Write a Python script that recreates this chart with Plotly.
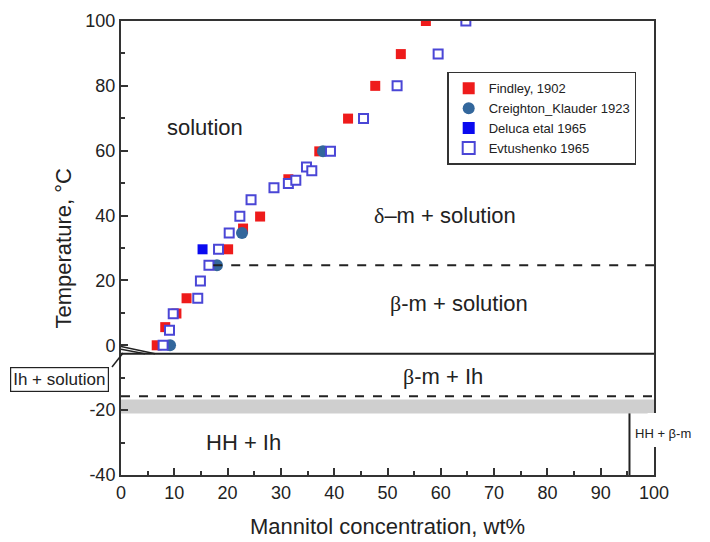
import plotly.graph_objects as go

# ---------------- data ----------------
findley_x = [6.7, 8.3, 10.4, 12.3, 17.6, 20.1, 22.9, 26.1, 31.4, 37.2, 42.6, 47.7, 52.5, 57.2]
findley_t = [0, 5.6, 9.8, 14.5, 24.7, 29.6, 36.0, 39.7, 51.2, 59.8, 69.9, 80, 89.8, 100]

creighton_x = [9.2, 18.0, 22.7, 37.9]
creighton_t = [0, 24.7, 34.6, 59.8]

deluca_x = [15.3]
deluca_t = [29.6]

evt_x = [7.9, 9.1, 9.8, 14.4, 14.9, 16.5, 18.3, 20.3, 22.3, 24.4, 28.7, 31.4, 32.8,
         34.8, 35.8, 39.3, 45.5, 51.8, 59.5, 64.7]
evt_t = [0, 4.6, 9.7, 14.5, 19.8, 24.7, 29.6, 34.6, 39.8, 44.9, 48.6, 49.9, 50.9,
         55.0, 53.8, 59.8, 69.9, 80, 89.8, 100]

x_ticks = list(range(0, 101, 10))
y_ticks = list(range(-40, 101, 20))
y_tick_text = [str(v) for v in y_ticks]  # plain hyphen minus like the original

# phase-boundary levels
eutectic_t = -2.6
transition_t = 24.7
lower_dash_t = -15.7
band_top, band_bot = -16.7, -21.0
hh_beta_x = 95.4

FONT = "Liberation Sans, Arial, sans-serif"
SERIF = "Liberation Serif"
INK = "#222222"

fig = go.Figure()

fig.add_trace(go.Scatter(
    x=findley_x, y=findley_t, mode="markers", name="Findley, 1902",
    marker=dict(symbol="square", size=10, color="#ee1b1b", line=dict(width=0))))
fig.add_trace(go.Scatter(
    x=creighton_x, y=creighton_t, mode="markers", name="Creighton_Klauder 1923",
    marker=dict(symbol="circle", size=12, color="#33679c", line=dict(width=0))))
fig.add_trace(go.Scatter(
    x=deluca_x, y=deluca_t, mode="markers", name="Deluca etal 1965",
    marker=dict(symbol="square", size=10, color="#0a0af0", line=dict(width=0))))
fig.add_trace(go.Scatter(
    x=evt_x, y=evt_t, mode="markers", name="Evtushenko 1965",
    marker=dict(symbol="square", size=9, color="white",
                line=dict(width=2, color="#4a46d6"))))

shapes = [
    # grey band
    dict(type="rect", xref="x", yref="y", x0=0, x1=100, y0=band_bot, y1=band_top,
         fillcolor="#cfcfcf", line=dict(width=0), layer="below"),
    # eutectic solid line
    dict(type="line", xref="x", yref="y", x0=0, x1=100, y0=eutectic_t, y1=eutectic_t,
         line=dict(color=INK, width=2)),
    # beta->delta transition dashed
    dict(type="line", xref="x", yref="y", x0=17.3, x1=100, y0=transition_t, y1=transition_t,
         line=dict(color=INK, width=2, dash="dash")),
    # lower dashed line
    dict(type="line", xref="x", yref="y", x0=0, x1=100, y0=lower_dash_t, y1=lower_dash_t,
         line=dict(color=INK, width=2, dash="dash")),
    # HH + beta-m vertical
    dict(type="line", xref="x", yref="y", x0=hh_beta_x, x1=hh_beta_x, y0=band_bot, y1=-40,
         line=dict(color=INK, width=2)),
    # ice liquidus wedge
    dict(type="line", xref="x", yref="y", x0=0, x1=6.4, y0=-0.4, y1=eutectic_t,
         line=dict(color=INK, width=1.5)),
    dict(type="line", xref="x", yref="y", x0=0, x1=4.5, y0=-1.2, y1=eutectic_t,
         line=dict(color=INK, width=1.5)),
    # pointer from label box
    dict(type="line", xref="paper", yref="paper", x0=-0.0169, y0=0.2379, x1=0.0038, y1=0.2687,
         line=dict(color=INK, width=1.5)),
    # white gap in right frame behind the "HH + β-m" label
    dict(type="rect", xref="paper", yref="paper", x0=0.988, x1=1.02, y0=0.0617, y1=0.1366,
         fillcolor="white", line=dict(width=0), layer="above"),
]

annotations = [
    dict(text="solution", x=15.8, y=67.3, xref="x", yref="y", showarrow=False,
         xanchor="center", yanchor="middle",
         font=dict(size=22, color=INK, family=FONT)),
    dict(text=f"<span style='font-family:{SERIF}'>δ</span>–m + solution", x=47, y=40,
         xref="x", yref="y", xanchor="left", yanchor="middle", showarrow=False,
         font=dict(size=22, color=INK, family=FONT)),
    dict(text=f"<span style='font-family:{SERIF}'>β</span>-m + solution", x=50, y=13,
         xref="x", yref="y", xanchor="left", yanchor="middle", showarrow=False,
         font=dict(size=22, color=INK, family=FONT)),
    dict(text=f"<span style='font-family:{SERIF}'>β</span>-m + Ih", x=52.5, y=-9.6,
         xref="x", yref="y", xanchor="left", yanchor="middle", showarrow=False,
         font=dict(size=22, color=INK, family=FONT)),
    dict(text="HH + Ih", x=23, y=-30, xref="x", yref="y", showarrow=False,
         xanchor="center", yanchor="middle",
         font=dict(size=22, color=INK, family=FONT)),
    dict(text="Ih + solution", x=-0.1154, y=0.2099, xref="paper", yref="paper",
         xanchor="center", yanchor="middle",
         showarrow=False, bgcolor="white", bordercolor=INK, borderwidth=1.2, borderpad=2,
         font=dict(size=17, color=INK, family=FONT)),
    dict(text="HH + β-m", x=1.0169, y=0.0925, xref="paper", yref="paper",
         xanchor="center", yanchor="middle", showarrow=False,
         font=dict(size=13, color=INK, family=FONT)),
    # axis titles
    dict(text="Temperature, °C", x=-0.1079, y=0.5, xref="paper", yref="paper",
         xanchor="center", yanchor="middle",
         textangle=-90, showarrow=False, font=dict(size=22, color=INK, family=FONT)),
    dict(text="Mannitol concentration, wt%", x=0.5, y=-0.1145, xref="paper", yref="paper",
         xanchor="center", yanchor="middle",
         showarrow=False, font=dict(size=22, color=INK, family=FONT)),
]

axis_common = dict(
    showgrid=False, zeroline=False, showline=True, linecolor="#333333", linewidth=2,
    mirror=True, ticks="inside", ticklen=7, tickwidth=1.5, tickcolor="#333333",
    tickfont=dict(size=18, color=INK, family=FONT),
)

fig.update_layout(
    width=710, height=542,
    margin=dict(l=121, r=56, t=21, b=67),
    paper_bgcolor="white", plot_bgcolor="white",
    font=dict(family=FONT, color=INK),
    showlegend=True,
    legend=dict(x=0.612, y=0.888, xanchor="left", yanchor="top",
                bordercolor="#333333", borderwidth=1.5, bgcolor="white",
                font=dict(size=13, color=INK, family=FONT), tracegroupgap=0,
                itemsizing="constant"),
    xaxis=dict(range=[0, 100], tickvals=x_ticks,
               minor=dict(dtick=5, ticks="inside", ticklen=4, tickcolor="#333333"),
               **axis_common),
    yaxis=dict(range=[-40, 100], tickvals=y_ticks, ticktext=y_tick_text,
               minor=dict(dtick=10, ticks="inside", ticklen=4, tickcolor="#333333"),
               **axis_common),
    shapes=shapes,
    annotations=annotations,
)

fig.write_html("out.html")
